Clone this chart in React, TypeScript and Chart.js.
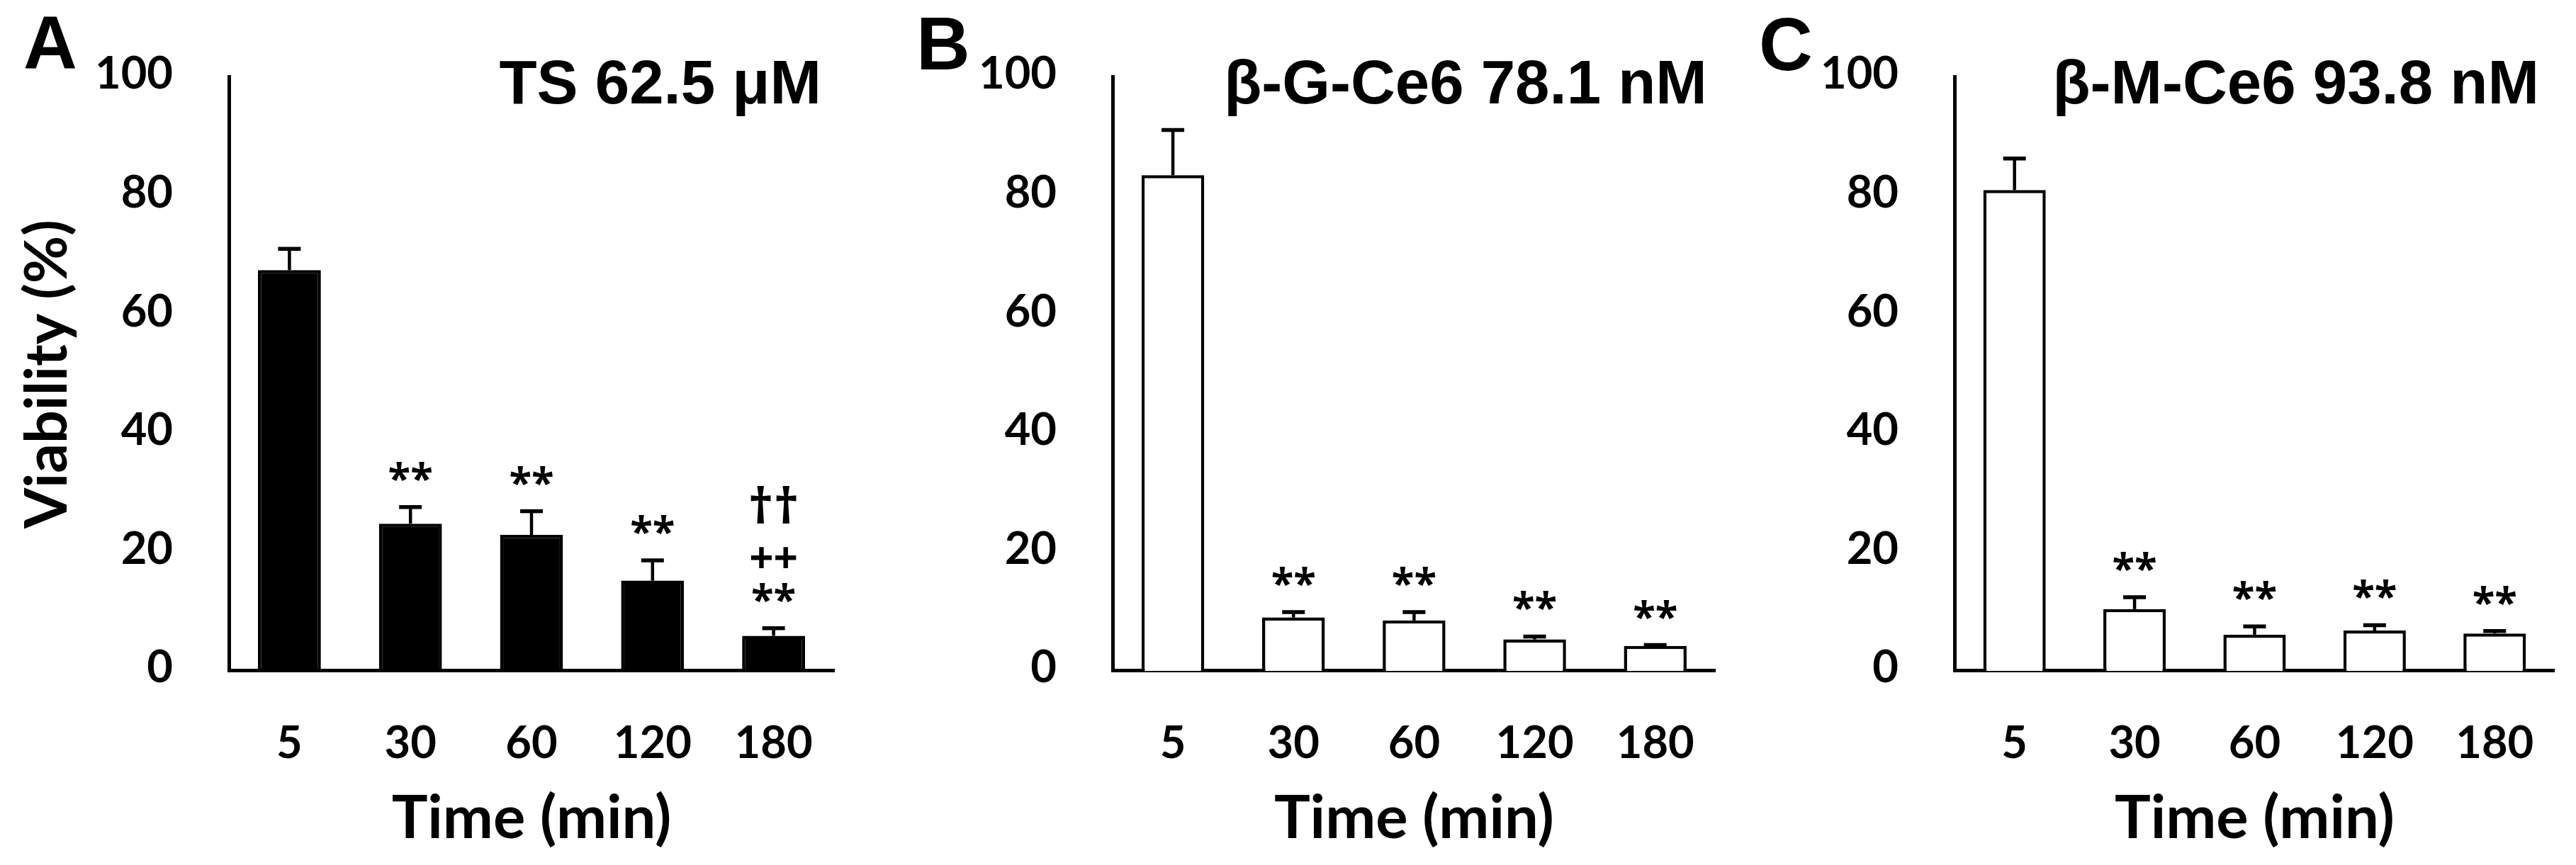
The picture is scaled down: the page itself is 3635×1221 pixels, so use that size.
import React, { useEffect, useRef } from 'react';
import { Chart, registerables } from 'chart.js';

Chart.register(...registerables);

// ---- data ----
const timeLabels = ['5', '30', '60', '120', '180'];
const yTickValues = [0, 20, 40, 60, 80, 100];

const tsMeans = [67.5, 24.8, 22.9, 15.2, 5.9];
const tsErrors = [3.6, 2.8, 4.0, 3.4, 1.3];
const tsMarks = [[], ['**'], ['**'], ['**'], ['**', '++', '††']];

const bgMeans = [83.5, 9.0, 8.5, 5.3, 4.2];
const bgErrors = [7.6, 0.9, 1.4, 0.5, 0.15];
const bgMarks = [[], ['**'], ['**'], ['**'], ['**']];

const bmMeans = [81.0, 10.4, 6.1, 6.8, 6.3];
const bmErrors = [5.3, 2.0, 1.4, 0.9, 0.4];
const bmMarks = [[], ['**'], ['**'], ['**'], ['**']];

const panelLetters = ['A', 'B', 'C'];
const panelTitles = ['TS 62.5 μM', 'β-G-Ce6 78.1 nM', 'β-M-Ce6 93.8 nM'];
const yAxisTitle = 'Viability (%)';
const xAxisTitle = 'Time (min)';

// ---- layout / style ----
const H = 1221;
const AREA_TOP = 86;
const AREA_BOTTOM = 947;
const LABEL_FONT = "Lato, 'Open Sans', sans-serif";
const MARK_FONT = "'Open Sans', Lato, sans-serif";
const TITLE_FONT = "'Liberation Sans', Arial, sans-serif";
const markOffsets = [50, 100, 174];
// ink size targets of the significance marks: by width or by height
const markTargets: Record<string, { w?: number; h?: number }> = {
  '**': { w: 60 },
  '++': { w: 64 },
  '††': { h: 54 },
};

type Panel = {
  left: number;
  width: number;
  areaLeft: number;
  areaRight: number;
  letterX: number;
  letterBase: number;
  titleGap: number;
  fill: string;
  showYTitle: boolean;
  means: number[];
  errors: number[];
  marks: string[][];
  letter: string;
  title: string;
};

const panels: Panel[] = [
  { left: 0, width: 1250, areaLeft: 323, areaRight: 1177, letterX: 33, letterBase: 97, titleGap: 18, fill: '#000000', showYTitle: true, means: tsMeans, errors: tsErrors, marks: tsMarks, letter: panelLetters[0], title: panelTitles[0] },
  { left: 1250, width: 1200, areaLeft: 320, areaRight: 1178, letterX: 43, letterBase: 98, titleGap: 12, fill: '#ffffff', showYTitle: false, means: bgMeans, errors: bgErrors, marks: bgMarks, letter: panelLetters[1], title: panelTitles[1] },
  { left: 2450, width: 1185, areaLeft: 308, areaRight: 1158, letterX: 32, letterBase: 99, titleGap: 22, fill: '#ffffff', showYTitle: false, means: bmMeans, errors: bmErrors, marks: bmMarks, letter: panelLetters[2], title: panelTitles[2] },
];

// font size so that the ink width (or height) of `text` equals the target
function fitSize(text: string, family: string, weight: string, target: { w?: number; h?: number }): number {
  const c = document.createElement('canvas').getContext('2d');
  if (!c) return 64;
  c.font = `${weight} 100px ${family}`;
  const m = c.measureText(text);
  if (target.h) {
    const inkH = (m.actualBoundingBoxAscent || 0) + (m.actualBoundingBoxDescent || 0);
    return inkH > 0 ? (100 * target.h) / inkH : 64;
  }
  const ink = (m.actualBoundingBoxLeft || 0) + (m.actualBoundingBoxRight || m.width);
  return ink > 0 ? (100 * (target.w || 60)) / ink : 64;
}

function makePlugin(p: Panel) {
  return {
    id: 'annot' + p.letter,
    afterDatasetsDraw(chart: any) {
      const { ctx } = chart;
      const meta = chart.getDatasetMeta(0);
      const yScale = chart.scales.y;
      ctx.save();
      ctx.strokeStyle = '#000';
      ctx.lineCap = 'butt';
      meta.data.forEach((bar: any, i: number) => {
        const yTop = yScale.getPixelForValue(p.means[i]);
        const yErr = yScale.getPixelForValue(p.means[i] + p.errors[i]);
        ctx.lineWidth = 4.5;
        ctx.beginPath();
        ctx.moveTo(bar.x, yTop);
        ctx.lineTo(bar.x, yErr);
        ctx.stroke();
        ctx.lineWidth = 5.5;
        ctx.beginPath();
        ctx.moveTo(bar.x - 16, yErr);
        ctx.lineTo(bar.x + 16, yErr);
        ctx.stroke();
      });
      ctx.fillStyle = '#000';
      ctx.textAlign = 'center';
      ctx.textBaseline = 'alphabetic';
      meta.data.forEach((bar: any, i: number) => {
        const yErr = yScale.getPixelForValue(p.means[i] + p.errors[i]);
        p.marks[i].forEach((m: string, k: number) => {
          const size = fitSize(m, MARK_FONT, 'bold', markTargets[m] || { w: 60 });
          ctx.font = `bold ${size}px ${MARK_FONT}`;
          const yc = yErr - markOffsets[k];
          const mt = ctx.measureText(m);
          const base = yc + (mt.actualBoundingBoxAscent - mt.actualBoundingBoxDescent) / 2;
          ctx.fillText(m, bar.x, base);
        });
      });
      ctx.restore();
    },
    afterDraw(chart: any) {
      const { ctx, chartArea } = chart;
      ctx.save();
      ctx.fillStyle = '#000';
      ctx.textBaseline = 'alphabetic';
      ctx.textAlign = 'left';
      ctx.font = `bold 105px ${TITLE_FONT}`;
      ctx.fillText(p.letter, p.letterX, p.letterBase);
      ctx.textAlign = 'right';
      ctx.font = `bold 87px ${TITLE_FONT}`;
      ctx.fillText(p.title, chartArea.right - p.titleGap, 146);
      ctx.restore();
    },
  };
}

function PanelChart({ p }: { p: Panel }) {
  const ref = useRef<HTMLCanvasElement | null>(null);
  useEffect(() => {
    if (!ref.current) return;
    const tickSize = fitSize('100', LABEL_FONT, 'bold', { w: 105 });
    const xTitleSize = fitSize(xAxisTitle, LABEL_FONT, 'bold', { w: 391 });
    const yTitleSize = fitSize(yAxisTitle, LABEL_FONT, 'bold', { w: 434 });
    const xTickPad = 1042 - AREA_BOTTOM - 0.6 * tickSize;
    const xTitlePadBottom = Math.max(0, H - (1188 - 0.387 * xTitleSize) - 0.6 * xTitleSize);
    const yTitlePadTop = Math.max(0, 76 - 0.1 * yTitleSize - 0.6 * yTitleSize);
    const chart = new Chart(ref.current, {
      type: 'bar',
      data: {
        labels: timeLabels,
        datasets: [
          {
            data: p.means,
            backgroundColor: p.fill,
            borderColor: '#000000',
            borderWidth: 4.5,
            barPercentage: 0.52,
            categoryPercentage: 1,
          },
        ],
      },
      options: {
        animation: false,
        responsive: false,
        devicePixelRatio: 1,
        events: [],
        layout: {
          padding: { left: 0, right: p.width - p.areaRight, top: AREA_TOP, bottom: 0 },
        },
        plugins: {
          legend: { display: false },
          tooltip: { enabled: false },
          title: { display: false },
        },
        scales: {
          x: {
            type: 'category',
            offset: true,
            z: 1,
            grid: { display: false },
            border: { display: true, color: '#000', width: 5 },
            ticks: {
              color: '#000',
              font: { family: LABEL_FONT, size: tickSize, weight: 'bold' },
              padding: xTickPad,
              maxRotation: 0,
              autoSkip: false,
            },
            title: {
              display: true,
              text: xAxisTitle,
              color: '#000',
              font: { family: LABEL_FONT, size: xTitleSize, weight: 'bold' },
              padding: { top: 0, bottom: xTitlePadBottom },
            },
            afterFit: (scale: any) => {
              scale.height = H - AREA_BOTTOM;
            },
          },
          y: {
            min: 0,
            max: 100,
            grid: { display: false },
            border: { display: true, color: '#000', width: 5 },
            afterBuildTicks: (scale: any) => {
              scale.ticks = yTickValues.map((v) => ({ value: v }));
            },
            ticks: {
              color: '#000',
              font: { family: LABEL_FONT, size: tickSize, weight: 'bold' },
              padding: 71,
              labelOffset: -4,
            },
            title: {
              display: p.showYTitle,
              text: yAxisTitle,
              color: '#000',
              font: { family: LABEL_FONT, size: yTitleSize, weight: 'bold' },
              padding: { top: yTitlePadTop, bottom: 0 },
            },
            afterFit: (scale: any) => {
              scale.width = p.areaLeft;
            },
          },
        },
      },
      plugins: [makePlugin(p)],
    } as any);
    return () => chart.destroy();
  }, [p]);
  return (
    <canvas
      ref={ref}
      width={p.width}
      height={H}
      style={{ position: 'absolute', left: p.left, top: 0, width: p.width, height: H }}
    />
  );
}

export default function App() {
  return (
    <div style={{ position: 'absolute', left: 0, top: 0, width: 3635, height: H, background: '#fff', overflow: 'hidden' }}>
      {panels.map((p) => (
        <PanelChart key={p.letter} p={p} />
      ))}
    </div>
  );
}
